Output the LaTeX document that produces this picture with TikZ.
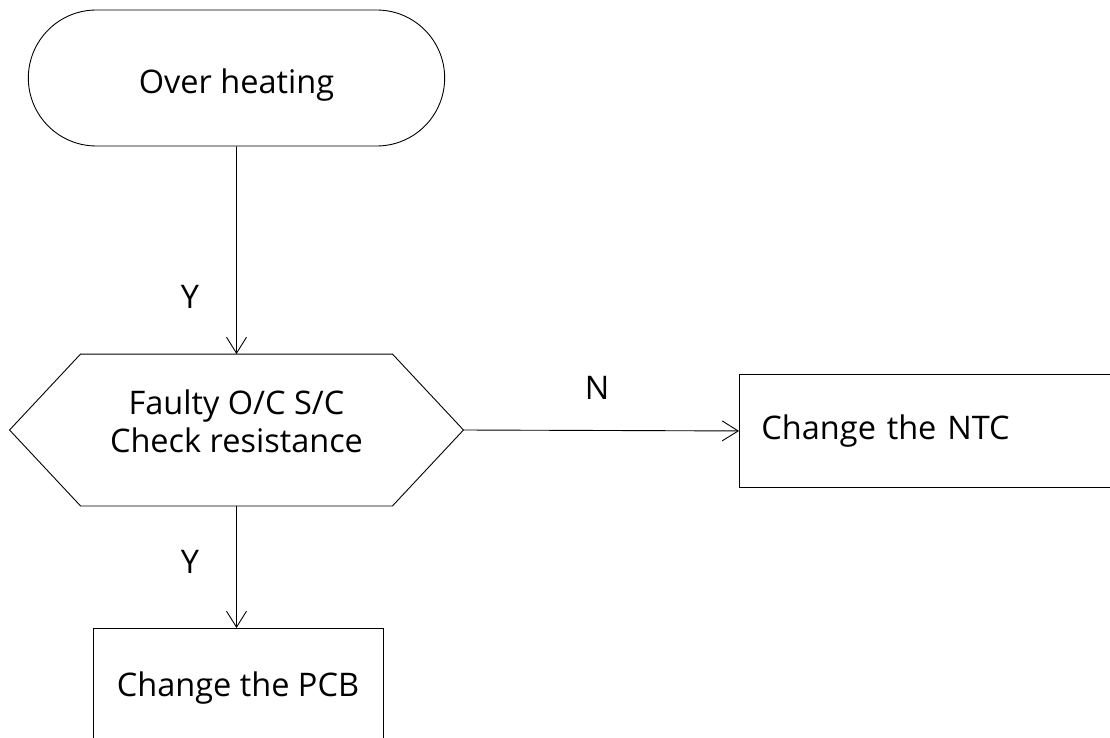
\documentclass[tikz,border=0pt]{standalone}
\usepackage{fontspec}
\setmainfont{Open Sans}
\usetikzlibrary{shapes.misc,arrows.meta,calc}

\begin{document}
\begin{tikzpicture}[x=1pt,y=-1pt,line width=0.9pt,
	txt/.style={font=\fontsize{32.5}{38}\selectfont},
	term/.style={txt, draw, rounded rectangle, minimum width=423pt, minimum height=136pt},
	hexbox/.style={minimum width=453pt, minimum height=151pt},
	actbox/.style={txt, draw},
	flow/.style={-{Straight Barb[length=16pt,width=20pt]}}]

	\useasboundingbox (0,0) rectangle (1110,738);
	\clip (0,0) rectangle (1110,738);

	% Start
	\node[term, text height=32pt, text depth=0pt] (heat) at (236.5,78) {Over heating};

	% Check
	\node[hexbox] (chk) at (236.5,430) {};
	\draw (chk.west) -- ($(chk.north west)+(71,0)$) -- ($(chk.north east)+(-71,0)$)
		-- (chk.east) -- ($(chk.south east)+(-71,0)$) -- ($(chk.south west)+(71,0)$) -- cycle;
	\node[txt, align=center] (chktxt) at (236.5,421) {Faulty O/C S/C\\Check resistance};

	% Actions
	\node[actbox, anchor=north west, minimum height=113pt, inner xsep=22pt, text width=376pt, align=left] (ntc) at (739,374) {Change the NTC};
	\node[actbox, anchor=north, minimum width=290pt, minimum height=120pt] (pcb) at (238,628) {Change the PCB};

	% Arrows
	\draw[flow] (heat) -- (chk.north);
	\draw[flow] (chk.east) -- (ntc.west);
	\draw[flow] (chk.south) -- (chk.south |- pcb.north);

	% Labels
	\node[txt] (y1) at (190,297) {Y};
	\node[txt] (n1) at (597,388) {N};
	\node[txt] (y2) at (190,562) {Y};

\end{tikzpicture}
\end{document}
